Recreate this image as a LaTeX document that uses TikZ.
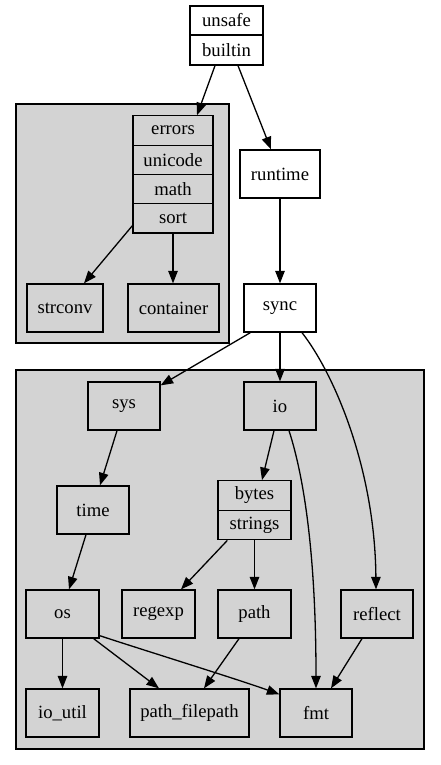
\documentclass[tikz,border=0pt]{standalone}
\usepackage{fontspec}
\setmainfont{Liberation Serif}
\usetikzlibrary{arrows.meta,calc}
\definecolor{clgray}{RGB}{211,211,211}
\begin{document}
\begin{tikzpicture}[x=1pt,y=-1pt,
  every node/.style={font=\fontsize{18.67}{22}\selectfont},
  box/.style={draw=black,line width=1.3pt,rectangle,inner sep=0pt,minimum height=48pt},
  rec/.style={draw=black,line width=1.3pt,rectangle,inner sep=0pt},
  wbox/.style={box,fill=white},
  gbox/.style={box,fill=clgray},
  cluster/.style={draw=black,line width=1.3pt,fill=clgray},
  edge/.style={draw=black,line width=1.3pt,-{Triangle[length=12.5pt,width=9.5pt]}}]
\useasboundingbox (0,0) rectangle (440,765);
\fill[white] (0,0) rectangle (440,765);
% clusters
\draw[cluster] (16,104) rectangle (229,343);
\draw[cluster] (16,370) rectangle (424,749);
% top record
\node[rec,fill=white,minimum width=73pt,minimum height=29pt] (unsafe) at (226.5,20.5) {unsafe};
\node[rec,fill=white,minimum width=73pt,minimum height=30pt] (builtin) at (226.5,50) {builtin};
% errors record
\node[rec,fill=clgray,minimum width=80pt,minimum height=29.3pt] (errors) at (173,130.5) {errors};
\node[rec,fill=clgray,minimum width=80pt,minimum height=29.3pt] (unicode) at (173,159.8) {unicode};
\node[rec,fill=clgray,minimum width=80pt,minimum height=29.3pt] (math) at (173,189.1) {math};
\node[rec,fill=clgray,minimum width=80pt,minimum height=29.3pt] (sort) at (173,218.4) {sort};
\node[gbox,minimum width=76pt] (strconv) at (65,308) {strconv};
\node[gbox,minimum width=91pt] (container) at (173.5,308) {container};
\node[wbox,minimum width=80pt] (runtime) at (280,174) {runtime};
\node[wbox,minimum width=72pt] (sync) at (280,308) {sync};
% second cluster
\node[gbox,minimum width=72pt] (sys) at (124,406) {sys};
\node[gbox,minimum width=72pt] (io) at (280,406) {io};
\node[gbox,minimum width=72pt] (time) at (93,510) {time};
\node[rec,fill=clgray,minimum width=73pt,minimum height=29.5pt] (bytes) at (254.5,495.5) {bytes};
\node[rec,fill=clgray,minimum width=73pt,minimum height=29.5pt] (strings) at (254.5,525) {strings};
\node[gbox,minimum width=73pt] (os) at (62.5,614) {os};
\node[gbox,minimum width=73pt] (regexp) at (158.5,614) {regexp};
\node[gbox,minimum width=73pt] (path) at (254.5,614) {path};
\node[gbox,minimum width=72pt] (reflect) at (377,614) {reflect};
\node[gbox,minimum width=73pt] (ioutil) at (62.5,713) {io\_util};
\node[gbox,minimum width=119pt] (pathfilepath) at (189.5,713) {path\_filepath};
\node[gbox,minimum width=72pt] (fmt) at (316,713) {fmt};
% edges
\draw[edge] ($(builtin.south)+(-11.5,0)$) -- ($(errors.north)+(24,0)$);
\draw[edge] ($(builtin.south)+(11.5,0)$) -- ($(runtime.north)+(-9,0)$);
\draw[edge] (runtime.south) -- (sync.north);
\draw[edge] ($(sort.south west)+(0,-8)$) -- ($(strconv.north)+(19,0)$);
\draw[edge] (sort.south) -- (sort.south |- container.north);
\draw[edge] ($(sync.south west)+(7,0)$) -- ($(sys.north east)+(0,4)$);
\draw[edge] (sync.south) -- (io.north);
\draw[edge] ($(sync.south)+(22,0)$) .. controls (335,375) and (375,470) .. ($(reflect.north)+(-1,0)$);
\draw[edge] ($(sys.south)+(-7,0)$) -- ($(time.north)+(7,0)$);
\draw[edge] ($(time.south)+(-7,0)$) -- ($(os.north)+(6.5,0)$);
\draw[edge] ($(io.south)+(-6,0)$) -- ($(bytes.north)+(7.5,0)$);
\draw[edge] ($(io.south)+(9,0)$) .. controls (305,480) and (316,560) .. (fmt.north);
\draw[edge] ($(strings.south west)+(10,0)$) -- ($(regexp.north)+(22.5,0)$);
\draw[edge] (strings.south) -- (path.north);
\draw[edge] (os.south) -- (ioutil.north);
\draw[edge] ($(os.south east)+(-6,0)$) -- ($(pathfilepath.north)+(-30.5,0)$);
\draw[edge] ($(os.south east)+(0,-3)$) .. controls (140,649) and (240,680) .. ($(fmt.north west)+(0,6)$);
\draw[edge] ($(path.south)+(-15.5,0)$) -- ($(pathfilepath.north)+(14.5,0)$);
\draw[edge] ($(reflect.south)+(-15,0)$) -- ($(fmt.north)+(15,0)$);
\end{tikzpicture}
\end{document}
